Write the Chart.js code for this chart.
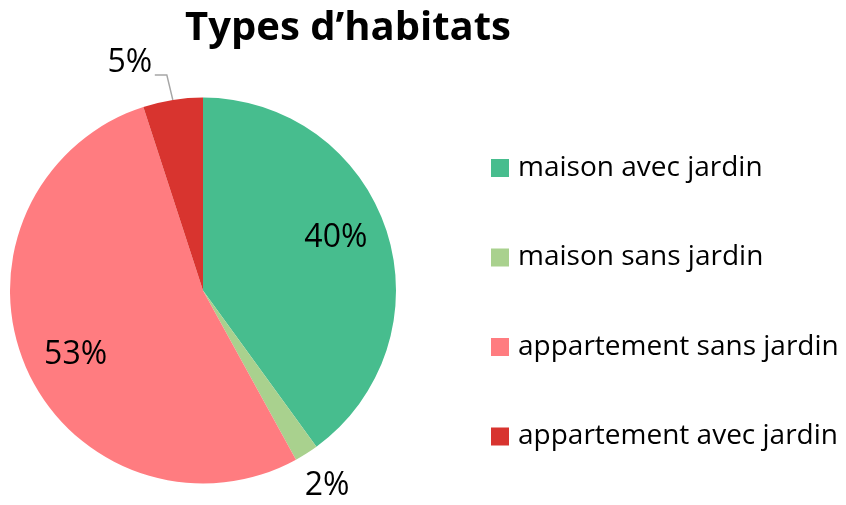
<!DOCTYPE html>
<html>
<head>
<meta charset="utf-8">
<script src="https://cdn.jsdelivr.net/npm/chart.js@4"></script>
<style>
  html, body { margin: 0; padding: 0; background: #fff; }
  #wrap { width: 846px; height: 505px; position: relative; }
</style>
</head>
<body>
<div id="wrap"><canvas id="chart"></canvas></div>
<script>
// Chart data
const chartTitle = 'Types d\u2019habitats';
const categories = ['maison avec jardin', 'maison sans jardin', 'appartement sans jardin', 'appartement avec jardin'];
const values = [40, 2, 53, 5];
const sliceColors = ['#47BD8E', '#A9D18E', '#FF7C80', '#D8342F'];

const FONT = '"Open Sans", "Noto Sans", sans-serif';

// Draw title, percentage labels and the legend ourselves
const decorPlugin = {
  id: 'decor',
  afterDraw(chart) {
    const ctx = chart.ctx;
    const meta = chart.getDatasetMeta(0);
    const data = chart.data.datasets[0].data;
    const total = data.reduce((a, b) => a + b, 0);

    ctx.save();
    // title
    ctx.fillStyle = '#000';
    ctx.font = 'bold 40px ' + FONT;
    ctx.textAlign = 'center';
    ctx.textBaseline = 'middle';
    ctx.fillText(chartTitle, 348, 29);

    // slice labels
    ctx.font = '32px ' + FONT;
    meta.data.forEach((arc, i) => {
      const mid = (arc.startAngle + arc.endAngle) / 2;
      const pct = Math.round(data[i] / total * 100) + '%';
      const r = arc.outerRadius;
      if (data[i] / total > 0.1) {
        const a = mid - 3.5 * Math.PI / 180;
        const x = arc.x + Math.cos(a) * r * 0.74;
        const y = arc.y + Math.sin(a) * r * 0.74;
        ctx.fillText(pct, x, y);
      } else if (i === 1) {
        const x = arc.x + Math.cos(mid) * r * 1.2;
        const y = arc.y + Math.sin(mid) * r * 1.2;
        ctx.fillText(pct, x, y);
      } else {
        // leader line for the small slice near the top
        const ex = arc.x + Math.cos(mid) * r;
        const ey = arc.y + Math.sin(mid) * r;
        ctx.strokeStyle = '#A6A6A6';
        ctx.lineWidth = 1.5;
        ctx.beginPath();
        ctx.moveTo(ex, ey);
        ctx.lineTo(ex - 6, ey - 25);
        ctx.lineTo(ex - 18, ey - 25);
        ctx.stroke();
        ctx.textAlign = 'center';
        ctx.fillText(pct, ex - 43, ey - 37);
      }
    });

    // legend
    ctx.textAlign = 'left';
    ctx.font = '28px ' + FONT;
    chart.data.labels.forEach((label, i) => {
      const y = 168 + i * 89.5;
      ctx.fillStyle = chart.data.datasets[0].backgroundColor[i];
      ctx.fillRect(491, y - 9, 18, 18);
      ctx.fillStyle = '#000';
      ctx.fillText(label, 518, y);
    });
    ctx.restore();
  }
};

new Chart(document.getElementById('chart'), {
  type: 'pie',
  data: {
    labels: categories,
    datasets: [{
      data: values,
      backgroundColor: sliceColors,
      borderWidth: 0
    }]
  },
  options: {
    responsive: true,
    maintainAspectRatio: false,
    animation: false,
    layout: {
      padding: { left: 10, right: 450, top: 97, bottom: 21 }
    },
    plugins: {
      legend: { display: false },
      title: { display: false },
      tooltip: { enabled: false }
    }
  },
  plugins: [decorPlugin]
});
</script>
</body>
</html>
